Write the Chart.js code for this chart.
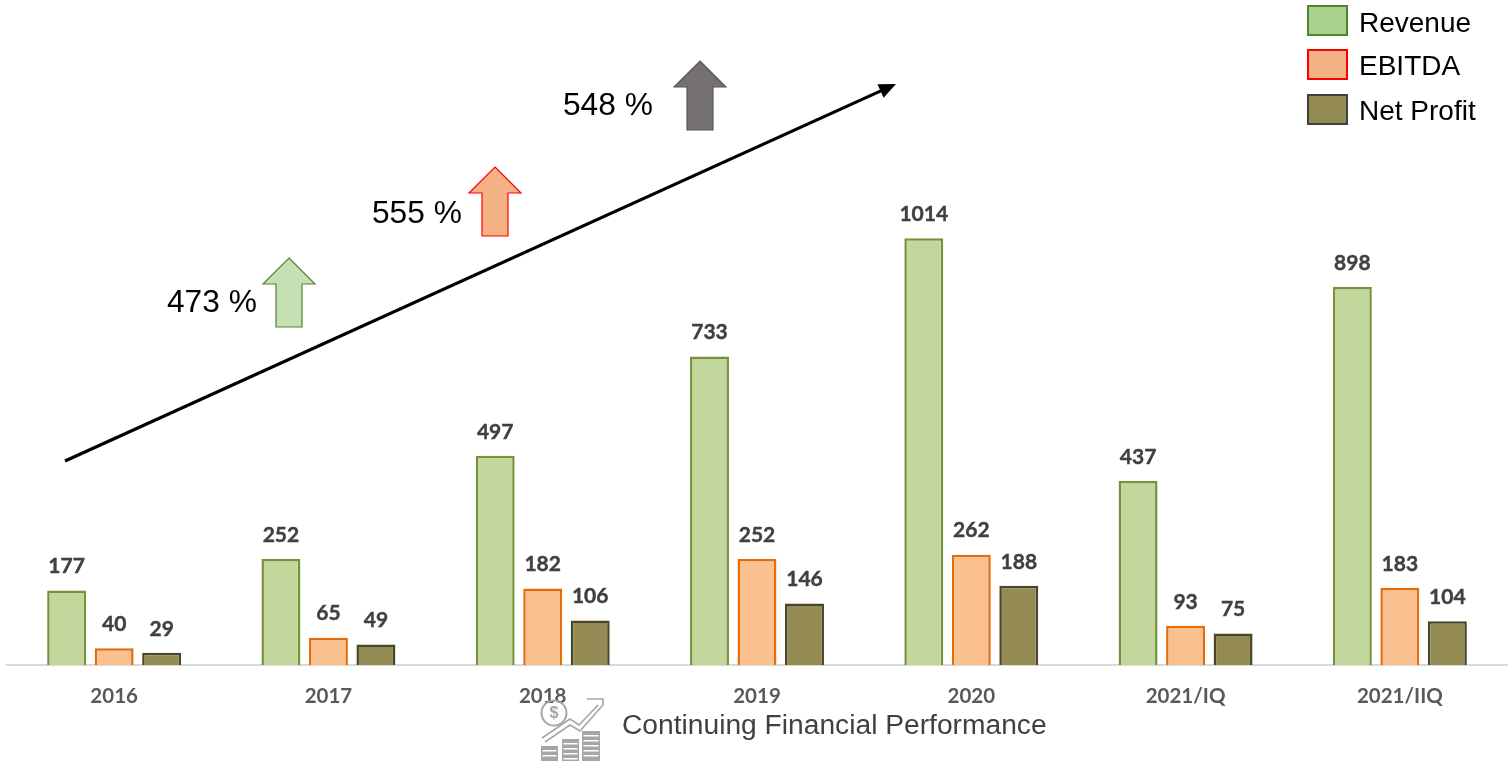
<!DOCTYPE html>
<html><head><meta charset="utf-8">
<style>html,body{margin:0;padding:0;background:#fff;overflow:hidden}#w{position:relative;width:1511px;height:763px}</style>
<script src="https://cdn.jsdelivr.net/npm/chart.js@4/dist/chart.umd.min.js"></script>
</head><body><div id="w"><canvas id="c" width="1511" height="763"></canvas></div>
<script>
const categories = ['2016','2017','2018','2019','2020','2021/IQ','2021/IIQ'];
const revenue   = [177,252,497,733,1014,437,898];
const ebitda    = [40,65,182,252,262,93,183];
const netProfit = [29,49,106,146,188,75,104];
const growthLabels = ['473 %','555 %','548 %'];
const seriesNames = ['Revenue','EBITDA','Net Profit'];
const titleText = 'Continuing Financial Performance';

const SANS = '"Liberation Sans", Arial, sans-serif';
const LABEL = 'bold 21px Lato, sans-serif';

const legendBoxes = [
  {fill:'#A9D18E', stroke:'#548235', y:6,  ty:24},
  {fill:'#F4B183', stroke:'#FF0000', y:50, ty:67},
  {fill:'#948A54', stroke:'#404040', y:95, ty:112}
];
const growthArrows = [
  {tip:[289,258], fill:'#C6E0B4', stroke:'#548235', tx:167, ty:303},
  {tip:[495,167], fill:'#F4B183', stroke:'#FF0000', tx:372, ty:214},
  {tip:[700,61],  fill:'#767171', stroke:'#595959', tx:563, ty:106}
];

const overlay = {
  id:'overlay',
  afterDatasetsDraw(chart){
    const ctx = chart.ctx;
    ctx.save();
    // value labels
    ctx.font = LABEL; ctx.fillStyle = '#404040'; ctx.strokeStyle='#404040'; ctx.lineWidth=0.4;
    ctx.textAlign='center'; ctx.textBaseline='middle';
    chart.data.datasets.forEach((ds,i)=>{
      chart.getDatasetMeta(i).data.forEach((b,j)=>{
        ctx.fillText(String(ds.data[j]), b.x, b.y-24);
        ctx.strokeText(String(ds.data[j]), b.x, b.y-24);
      });
    });
    // trend arrow
    const x0=65,y0=461,x1=896,y1=84;
    ctx.strokeStyle='#000'; ctx.lineWidth=3.2; ctx.beginPath(); ctx.moveTo(x0,y0); ctx.lineTo(x1-8,y1+3.6); ctx.stroke();
    const a=Math.atan2(y1-y0,x1-x0);
    ctx.fillStyle='#000'; ctx.beginPath(); ctx.moveTo(x1,y1);
    ctx.lineTo(x1-17*Math.cos(a)+7.5*Math.sin(a), y1-17*Math.sin(a)-7.5*Math.cos(a));
    ctx.lineTo(x1-17*Math.cos(a)-7.5*Math.sin(a), y1-17*Math.sin(a)+7.5*Math.cos(a));
    ctx.closePath(); ctx.fill();
    // block arrows and growth text
    growthArrows.forEach((g,i)=>{
      const [x,y]=g.tip;
      ctx.beginPath(); ctx.moveTo(x,y); ctx.lineTo(x+26,y+26); ctx.lineTo(x+13,y+26); ctx.lineTo(x+13,y+69);
      ctx.lineTo(x-13,y+69); ctx.lineTo(x-13,y+26); ctx.lineTo(x-26,y+26); ctx.closePath();
      ctx.fillStyle=g.fill; ctx.fill(); ctx.strokeStyle=g.stroke; ctx.lineWidth=1.2; ctx.stroke();
      ctx.font='31.7px '+SANS; ctx.fillStyle='#000'; ctx.textAlign='left'; ctx.textBaseline='middle';
      ctx.fillText(growthLabels[i], g.tx, g.ty);
    });
    // legend
    legendBoxes.forEach((l,i)=>{
      ctx.fillStyle=l.fill; ctx.strokeStyle=l.stroke; ctx.lineWidth=2;
      ctx.fillRect(1308,l.y,39,29); ctx.strokeRect(1308,l.y,39,29);
      ctx.font='28px '+SANS; ctx.fillStyle='#000'; ctx.textAlign='left'; ctx.textBaseline='middle';
      ctx.fillText(seriesNames[i],1359,l.ty);
    });
    // caption
    ctx.font='28.2px '+SANS; ctx.fillStyle='#404040'; ctx.textAlign='left'; ctx.textBaseline='middle';
    ctx.fillText(titleText,622,726);
    // icon
    ctx.strokeStyle='#a6a6a6'; ctx.fillStyle='#a6a6a6'; ctx.lineWidth=2;
    ctx.beginPath(); ctx.arc(554,713,12.5,0,Math.PI*2); ctx.stroke();
    ctx.font='bold 16px '+SANS; ctx.textAlign='center'; ctx.fillText('$',554,714);
    ctx.lineWidth=1.6;
    ctx.beginPath(); ctx.moveTo(542,738); ctx.lineTo(570,719); ctx.lineTo(579,725); ctx.lineTo(598,705); ctx.stroke();
    ctx.beginPath(); ctx.moveTo(545,742); ctx.lineTo(570,725); ctx.lineTo(580,731); ctx.lineTo(603,705);
    ctx.lineTo(603,699); ctx.lineTo(587,699); ctx.stroke();
    [[541,17,746],[562,17,739],[582,18,731]].forEach(([bx,bw,by])=>{
      ctx.fillStyle='#a6a6a6'; ctx.fillRect(bx,by,bw,761-by);
      ctx.fillStyle='#fff';
      for(let yy=by+4;yy<759;yy+=5) ctx.fillRect(bx+1.5,yy,bw-3,1.5);
    });
    ctx.restore();
  }
};

new Chart(document.getElementById('c'),{
  type:'bar',
  plugins:[overlay],
  data:{labels:categories,datasets:[
    {label:seriesNames[0],data:revenue,backgroundColor:'#C3D69B',borderColor:'#76933C',borderWidth:2.5},
    {label:seriesNames[1],data:ebitda,backgroundColor:'#FAC090',borderColor:'#E46C0A',borderWidth:2.5},
    {label:seriesNames[2],data:netProfit,backgroundColor:'#948A54',borderColor:'#4A452A',borderWidth:2.5}
  ]},
  options:{
    responsive:false,animation:false,
    layout:{padding:{left:7,right:4,top:0,bottom:0}},
    categoryPercentage:0.665,barPercentage:0.82,
    plugins:{legend:{display:false},tooltip:{enabled:false},title:{display:false}},
    scales:{
      x:{
        grid:{display:false,drawTicks:false},
        border:{color:'#d9d9d9',width:2},
        ticks:{color:'#595959',font:{family:'Lato',weight:'bold',size:20.5},padding:19,maxRotation:0},
        afterFit(s){s.height=98;}
      },
      y:{display:false,min:0,max:1580}
    }
  }
});
</script></body></html>
